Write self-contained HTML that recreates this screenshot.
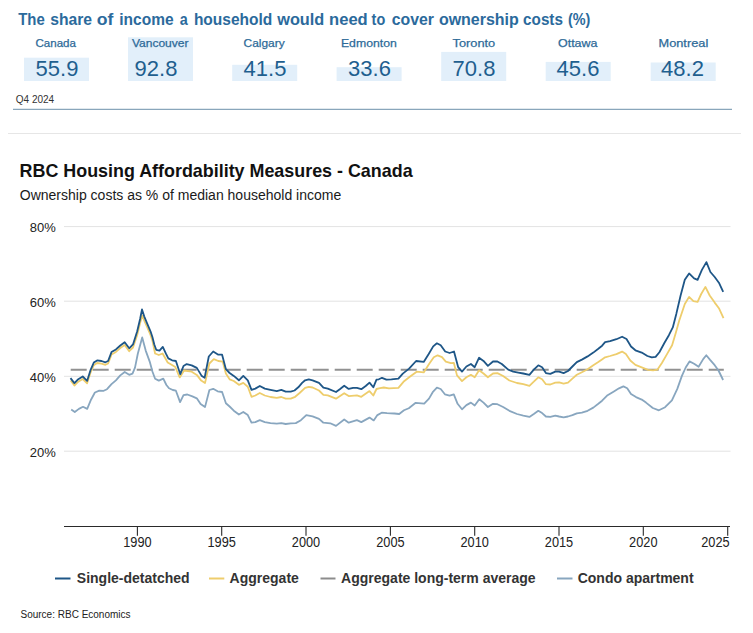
<!DOCTYPE html>
<html><head><meta charset="utf-8"><style>
html,body{margin:0;padding:0;background:#fff;}
body{width:753px;height:633px;overflow:hidden;position:relative;}
svg{position:absolute;left:0;top:0;display:block;}
text{font-family:"Liberation Sans",sans-serif;}
.t1{font-size:16px;font-weight:bold;fill:#2b6a9c;}
.city{font-size:11.5px;fill:#2d6a98;stroke:#2d6a98;stroke-width:0.25px;}
.val{font-size:22px;fill:#1f5f8f;}
.q4{font-size:10px;fill:#333;}
.ct{font-size:17.9px;font-weight:bold;fill:#111;}
.cs{font-size:14px;fill:#1a1a1a;}
.ax{font-size:13.5px;fill:#222;}
.axx{font-size:14px;fill:#222;}
.lg{font-size:14px;font-weight:bold;fill:#333;}
.src{font-size:10px;fill:#222;}
</style></head><body>
<svg width="753" height="633" viewBox="0 0 753 633">
<rect width="753" height="633" fill="#fff"/>
<text x="18.2" y="24.8" class="t1" textLength="26.52" lengthAdjust="spacingAndGlyphs">The</text>
<text x="50.2" y="24.8" class="t1" textLength="41.87" lengthAdjust="spacingAndGlyphs">share</text>
<text x="96.8" y="24.8" class="t1" textLength="16.62" lengthAdjust="spacingAndGlyphs">of</text>
<text x="119.3" y="24.8" class="t1" textLength="54.29" lengthAdjust="spacingAndGlyphs">income</text>
<text x="179.7" y="24.8" class="t1" textLength="8.02" lengthAdjust="spacingAndGlyphs">a</text>
<text x="193.9" y="24.8" class="t1" textLength="78.43" lengthAdjust="spacingAndGlyphs">household</text>
<text x="277.2" y="24.8" class="t1" textLength="47.14" lengthAdjust="spacingAndGlyphs">would</text>
<text x="329.1" y="24.8" class="t1" textLength="38.62" lengthAdjust="spacingAndGlyphs">need</text>
<text x="371.6" y="24.8" class="t1" textLength="13.60" lengthAdjust="spacingAndGlyphs">to</text>
<text x="391.8" y="24.8" class="t1" textLength="42.19" lengthAdjust="spacingAndGlyphs">cover</text>
<text x="438.9" y="24.8" class="t1" textLength="79.92" lengthAdjust="spacingAndGlyphs">ownership</text>
<text x="523.1" y="24.8" class="t1" textLength="39.81" lengthAdjust="spacingAndGlyphs">costs</text>
<text x="568.0" y="24.8" class="t1" textLength="22.40" lengthAdjust="spacingAndGlyphs">(%)</text>

<rect x="24" y="57.7" width="65" height="23.3" fill="#e2effa"/>
<rect x="128" y="37.3" width="65" height="43.7" fill="#e2effa"/>
<rect x="232.2" y="64.8" width="65" height="16.2" fill="#e2effa"/>
<rect x="336.6" y="67.2" width="65" height="13.8" fill="#e2effa"/>
<rect x="441.2" y="51.9" width="65" height="29.1" fill="#e2effa"/>
<rect x="545.7" y="61.9" width="65" height="19.1" fill="#e2effa"/>
<rect x="650.7" y="62.5" width="65" height="18.5" fill="#e2effa"/>
<text x="35.49" y="47.2" class="city" textLength="40.51" lengthAdjust="spacingAndGlyphs">Canada</text>
<text x="57" y="75.6" text-anchor="middle" class="val">55.9</text>
<text x="131.90" y="47.2" class="city" textLength="56.65" lengthAdjust="spacingAndGlyphs">Vancouver</text>
<text x="156" y="75.6" text-anchor="middle" class="val">92.8</text>
<text x="243.56" y="47.2" class="city" textLength="41.06" lengthAdjust="spacingAndGlyphs">Calgary</text>
<text x="265" y="75.6" text-anchor="middle" class="val">41.5</text>
<text x="340.93" y="47.2" class="city" textLength="55.94" lengthAdjust="spacingAndGlyphs">Edmonton</text>
<text x="369.5" y="75.6" text-anchor="middle" class="val">33.6</text>
<text x="452.50" y="47.2" class="city" textLength="42.70" lengthAdjust="spacingAndGlyphs">Toronto</text>
<text x="474" y="75.6" text-anchor="middle" class="val">70.8</text>
<text x="558.00" y="47.2" class="city" textLength="39.48" lengthAdjust="spacingAndGlyphs">Ottawa</text>
<text x="578" y="75.6" text-anchor="middle" class="val">45.6</text>
<text x="658.49" y="47.2" class="city" textLength="49.75" lengthAdjust="spacingAndGlyphs">Montreal</text>
<text x="682.5" y="75.6" text-anchor="middle" class="val">48.2</text>

<text x="15.8" y="102.6" class="q4">Q4 2024</text>
<line x1="13" y1="109.3" x2="732" y2="109.3" stroke="#89a6bb" stroke-width="1.2"/>
<line x1="8" y1="133.5" x2="741" y2="133.5" stroke="#e6e6e6" stroke-width="1"/>
<text x="19.6" y="176.5" class="ct">RBC Housing Affordability Measures - Canada</text>
<text x="19.8" y="199.6" class="cs">Ownership costs as % of median household income</text>
<line x1="64" y1="226.6" x2="730.5" y2="226.6" stroke="#e3e3e3" stroke-width="1"/>
<text x="55.7" y="231.9" text-anchor="end" class="ax" textLength="26" lengthAdjust="spacingAndGlyphs">80%</text>
<line x1="64" y1="301.2" x2="730.5" y2="301.2" stroke="#e3e3e3" stroke-width="1"/>
<text x="55.7" y="306.5" text-anchor="end" class="ax" textLength="26" lengthAdjust="spacingAndGlyphs">60%</text>
<line x1="64" y1="376.3" x2="730.5" y2="376.3" stroke="#e3e3e3" stroke-width="1"/>
<text x="55.7" y="381.6" text-anchor="end" class="ax" textLength="26" lengthAdjust="spacingAndGlyphs">40%</text>
<line x1="64" y1="451.2" x2="730.5" y2="451.2" stroke="#e3e3e3" stroke-width="1"/>
<text x="55.7" y="456.5" text-anchor="end" class="ax" textLength="26" lengthAdjust="spacingAndGlyphs">20%</text>

<line x1="64" y1="526.5" x2="730" y2="526.5" stroke="#2a2a2a" stroke-width="1.2"/>
<line x1="137.4" y1="526.5" x2="137.4" y2="535.8" stroke="#2a2a2a" stroke-width="1.1"/>
<text x="137.4" y="546.9" text-anchor="middle" class="axx" textLength="28.4" lengthAdjust="spacingAndGlyphs">1990</text>
<line x1="221.7" y1="526.5" x2="221.7" y2="535.8" stroke="#2a2a2a" stroke-width="1.1"/>
<text x="221.7" y="546.9" text-anchor="middle" class="axx" textLength="28.4" lengthAdjust="spacingAndGlyphs">1995</text>
<line x1="306.0" y1="526.5" x2="306.0" y2="535.8" stroke="#2a2a2a" stroke-width="1.1"/>
<text x="306.0" y="546.9" text-anchor="middle" class="axx" textLength="28.4" lengthAdjust="spacingAndGlyphs">2000</text>
<line x1="390.4" y1="526.5" x2="390.4" y2="535.8" stroke="#2a2a2a" stroke-width="1.1"/>
<text x="390.4" y="546.9" text-anchor="middle" class="axx" textLength="28.4" lengthAdjust="spacingAndGlyphs">2005</text>
<line x1="474.7" y1="526.5" x2="474.7" y2="535.8" stroke="#2a2a2a" stroke-width="1.1"/>
<text x="474.7" y="546.9" text-anchor="middle" class="axx" textLength="28.4" lengthAdjust="spacingAndGlyphs">2010</text>
<line x1="559.0" y1="526.5" x2="559.0" y2="535.8" stroke="#2a2a2a" stroke-width="1.1"/>
<text x="559.0" y="546.9" text-anchor="middle" class="axx" textLength="28.4" lengthAdjust="spacingAndGlyphs">2015</text>
<line x1="643.3" y1="526.5" x2="643.3" y2="535.8" stroke="#2a2a2a" stroke-width="1.1"/>
<text x="643.3" y="546.9" text-anchor="middle" class="axx" textLength="28.4" lengthAdjust="spacingAndGlyphs">2020</text>
<line x1="727.7" y1="526.5" x2="727.7" y2="535.8" stroke="#2a2a2a" stroke-width="1.1"/>
<text x="729.6" y="546.9" text-anchor="end" class="axx" textLength="28.4" lengthAdjust="spacingAndGlyphs">2025</text>

<line x1="70.7" y1="369.7" x2="723.8" y2="369.7" stroke="#919191" stroke-width="2" stroke-dasharray="16 6"/>
<polyline points="71.2,409.4 74.8,412 78.9,408.9 83,406.8 87.2,408.9 91,399.7 94.9,392.5 99.3,390.6 103.7,390.8 107,389.2 111.5,384.2 115.9,380.3 120.3,375.4 124.7,372 129.2,374.8 132.5,373.7 135,367.6 137.8,353.7 142.2,337.4 145.7,350.6 149.7,361.6 152.5,371.7 155.1,378.7 158.8,380.6 163.3,378.7 166.4,385 169,388.2 172.8,390 175.9,390.7 180.1,402.1 183.5,395.1 187.3,394.5 192.4,396.4 196.8,398.3 200.6,404 205,407.1 209.4,390 213.2,388.8 217.6,391.3 222.1,392 225.9,403.3 229.6,406.5 233.8,410.7 238.9,414.5 243.3,411.9 247.8,415.1 251.5,422.7 255.3,422.1 259.8,420.2 264.8,422.1 270.5,423.1 276.8,423.6 281.3,423.1 285.7,424 290.7,423.3 295.8,423.1 300.9,420.2 306.3,415.1 312.6,416.4 319,418.9 323.4,422.7 330.3,423.3 336,425.9 344.2,419.5 348.7,422.7 356.9,420.2 361.3,422.1 369.5,417.6 373.7,420.4 377.4,415.1 381.7,412.7 387,413.2 394.4,413.5 399.2,414 404,410.3 408.8,408.2 415.7,402.8 424.2,403.6 429,398.6 432.7,392.2 436.9,387.7 440.7,389 444.9,394.3 449.6,395.7 453.8,394.4 457.6,403.8 462,409.3 466.4,405.1 470.9,402.6 474.7,405.5 479.3,399.2 483.5,402.6 487.9,407 493,403.8 497.4,404.2 503.1,407 509.4,410.8 517,414 523.3,415.6 529.4,416.9 533.8,414 538.3,410.8 542.1,413.1 545.9,416.5 550.3,416.9 555.3,415.6 559.1,416.5 563.6,417.4 568,416.5 572.4,415.2 576.8,413.3 581.9,412.7 587.6,410.8 593.3,407.6 598.3,403.8 602.1,400.7 607.6,395.2 613.9,391.4 619,388.3 623.4,386.4 627.2,388.3 631,394 636,397.1 641.7,399.6 646,402.6 652.8,408 658.9,410.3 665.1,407.2 671.9,400.3 677.3,388.9 681.9,375.9 685.7,367.5 689.5,361.4 694.1,363.7 698.6,366.7 703.2,359.1 706.3,355.3 710.1,359.9 714.7,365.2 718.5,370.5 723.1,380" fill="none" stroke="#88a6bf" stroke-width="1.8" stroke-linejoin="round"/>
<polyline points="70.7,380.5 74.4,385.5 78.3,381.7 82.7,379 87.1,383.3 90.4,373 93.8,365.2 97.1,363 101.5,363.6 105.4,364.8 108.1,363.5 111.5,354.6 115.9,351.9 120.3,348 124.7,345 129.2,351.2 133,347.5 137.2,335 140.1,323 142.2,315.5 144.6,321.5 147.5,328 150.5,335 152.5,341 155.1,353.5 158.8,355 162.6,353.5 167.7,362.5 172,365 175.3,367 179.7,377.4 184.1,370.5 191.7,371.7 196.8,374.9 201.2,380.6 205,383.1 209.4,363.5 213.8,359.1 218.3,361 222.7,361.6 225.9,373.6 229.6,379.3 233.8,381 238.9,384.8 243.3,382.9 247.8,386.7 251.5,396.8 255.3,395.5 259.8,393 264.8,395.5 270.5,397 276.8,397.8 281.3,397 285.7,398.7 290.7,398.7 295.2,396.8 299.6,393 305.1,387.9 308.8,386.9 312.6,387.5 319,390.5 323.4,394.9 327.8,395.3 336,398.7 344.2,393.2 348.7,396.1 356.9,395.3 361.3,396.8 369.5,391.1 373.3,395.5 376.5,389 380.1,388.2 383.8,387.5 388.9,388.4 398.4,387.9 404.1,381.2 409.8,376.8 416.7,371.7 423.7,372.4 429.4,363.5 433.8,357.2 437.6,355.3 442,357.2 445.8,361.6 450.9,363.1 453.8,362.8 457,375.4 462,381.1 466.4,377.3 470.9,374.8 474.7,377.3 479.1,370.3 483.5,373.5 487.9,377.3 493,373.5 497.4,373.1 503.1,376 509.4,380.5 517,383 523.3,384.2 529.4,385.8 533.8,381.7 538.3,377.3 542.1,379.2 545.9,384.2 550.3,384.5 555.3,382.7 559.1,382.4 563.6,383.6 568,382.7 572.4,378.6 576.8,374.8 581.9,372.2 587.6,369.3 593.3,365.3 598.3,362.1 602,359.5 605.1,357.3 610.1,356 616.4,354.1 622.1,351.6 625.9,354.1 630.3,360.5 635.4,364.9 641.7,367.4 648,369.9 653.1,370.3 657.5,369.6 661.9,363 667,354.1 672.1,345.3 675.9,332.6 679.1,321 684.8,304 689.1,296.9 693.4,301.1 697.6,301.8 701.2,294 705.4,286.9 709.7,295.5 714.7,302.6 718.9,308.2 723.5,318.2" fill="none" stroke="#eecd6c" stroke-width="1.8" stroke-linejoin="round"/>
<polyline points="70.5,378.1 74.4,383.1 78.3,379.2 82.7,376.5 87.1,380.9 90.4,370.4 93.8,362.6 97.1,360.4 101.5,361 105.4,362.3 108.1,361 111.5,352.1 115.9,349.4 120.3,345.5 124.7,342.2 129.2,348.3 133,344.4 137.2,331.3 140.1,319 142,309.5 144.3,316.6 147.2,323.7 150.5,331.3 152.4,337 154.3,344.5 156.2,349.8 159.5,350.7 162.8,346.9 165.8,353.4 168.3,358.4 172.1,360.3 175.9,361 180.3,374.2 183.5,366 186.7,364.1 191.7,365.4 196.8,367.9 201.8,376.1 204.6,377.8 208.8,356.5 213.2,351.5 218.3,354.7 222.1,354.7 225.9,369.2 229.6,373 233.8,375.9 238.9,380.3 243.3,375.9 247.8,380.3 251.5,389.8 255.3,388.6 259.8,386 264.8,388.6 270.5,389.8 276.8,391.1 281.3,389.8 285.7,391.7 290.7,391.7 294.5,390.5 298.3,387.3 302.1,382.9 305.1,380.3 308.8,379.3 312.6,380.3 319,382.9 323.4,387.7 327.8,388.6 336,392 339.8,389.2 344.2,385.7 348.7,388.9 353.1,387.9 356.9,387.9 361.3,389.2 365.7,386 369.5,382.6 373.3,387.3 376.5,379.7 378.8,379.3 382,377.8 386.4,379.6 391.4,379.3 398.4,378.7 402.8,373.6 409.1,368.6 416.1,361 423.7,361.9 428.7,354 433.2,346.4 436.9,343.3 440.7,345.2 445.2,351.5 449.6,353 454,351.5 458.2,367.2 462,371.6 466.4,366.5 470.9,364 474.7,367.2 479.1,357.7 483.5,360.9 487.9,365.9 493,361.5 497.4,361.5 501.8,364 508.2,369.7 513.2,371.6 518.3,372.6 523.3,373.5 529.4,374.8 533.8,369.7 538.3,365.3 542.1,367.2 545.9,373.1 550.3,373.9 555.3,371.6 559.1,371.6 563.6,373.1 568,371 572.4,366.5 576.8,362.1 581.9,359.6 587.6,356.4 593.3,352.6 598.3,348.8 602.1,345.7 605.1,342.1 610.1,341.2 616.4,339.2 622.1,336.7 626.5,339 631,346.5 635.4,350.3 641.7,352.6 647.4,356 651.8,357.3 655.6,356.9 659.4,352.2 664.5,342.8 668.9,335.2 672.8,327.4 676.3,313.9 680.6,295.5 684.8,279.8 689.1,273.4 694.1,278.4 697.6,279.8 701.9,269.9 706.4,262.1 710.4,272 714.7,277 718.9,282.7 723.2,291.9" fill="none" stroke="#1e5687" stroke-width="1.8" stroke-linejoin="round"/>
<line x1="55" y1="578.5" x2="70.5" y2="578.5" stroke="#1e5687" stroke-width="2"/>
<text x="76.8" y="582.6" class="lg">Single-detatched</text>
<line x1="209" y1="578.5" x2="224.3" y2="578.5" stroke="#eecd6c" stroke-width="2"/>
<text x="229.6" y="582.6" class="lg">Aggregate</text>
<line x1="320.5" y1="578.5" x2="335.5" y2="578.5" stroke="#8c8c8c" stroke-width="2"/>
<text x="341.1" y="582.6" class="lg">Aggregate long-term average</text>
<line x1="557" y1="578.5" x2="572.5" y2="578.5" stroke="#88a6bf" stroke-width="2"/>
<text x="577.7" y="582.6" class="lg">Condo apartment</text>
<text x="20.5" y="618.2" class="src">Source: RBC Economics</text>
</svg>
</body></html>
